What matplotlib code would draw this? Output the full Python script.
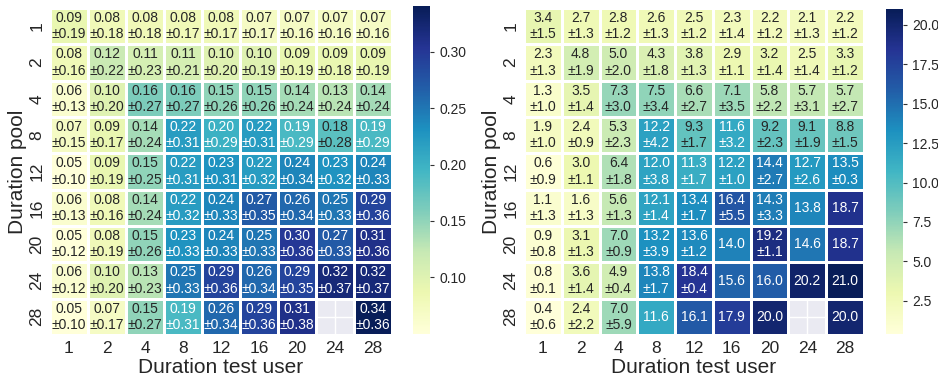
import numpy as np
import matplotlib
matplotlib.use('Agg')
import matplotlib.pyplot as plt
import seaborn as sns

sns.set_theme(style='darkgrid')
plt.rcParams['font.family'] = ['Liberation Sans', 'DejaVu Sans']

durations = [1, 2, 4, 8, 12, 16, 20, 24, 28]
nan = np.nan

# left: mean and std per (pool, test user)
left_mean = [
    [0.09, 0.08, 0.08, 0.08, 0.08, 0.07, 0.07, 0.07, 0.07],
    [0.08, 0.12, 0.11, 0.11, 0.10, 0.10, 0.09, 0.09, 0.09],
    [0.06, 0.10, 0.16, 0.16, 0.15, 0.15, 0.14, 0.13, 0.14],
    [0.07, 0.09, 0.14, 0.22, 0.20, 0.22, 0.19, 0.18, 0.19],
    [0.05, 0.09, 0.15, 0.22, 0.23, 0.22, 0.24, 0.23, 0.24],
    [0.06, 0.08, 0.14, 0.22, 0.24, 0.27, 0.26, 0.25, 0.29],
    [0.05, 0.08, 0.15, 0.23, 0.24, 0.25, 0.30, 0.27, 0.31],
    [0.06, 0.10, 0.13, 0.25, 0.29, 0.26, 0.29, 0.32, 0.32],
    [0.05, 0.07, 0.15, 0.19, 0.26, 0.29, 0.31, nan, 0.34],
]
left_std = [
    [0.19, 0.18, 0.18, 0.17, 0.17, 0.17, 0.16, 0.16, 0.16],
    [0.16, 0.22, 0.23, 0.21, 0.20, 0.19, 0.19, 0.18, 0.19],
    [0.13, 0.20, 0.27, 0.27, 0.26, 0.26, 0.24, 0.24, 0.24],
    [0.15, 0.17, 0.24, 0.31, 0.29, 0.31, 0.29, 0.28, 0.29],
    [0.10, 0.19, 0.25, 0.31, 0.31, 0.32, 0.34, 0.32, 0.33],
    [0.13, 0.16, 0.24, 0.32, 0.33, 0.35, 0.34, 0.33, 0.36],
    [0.12, 0.19, 0.26, 0.33, 0.33, 0.33, 0.36, 0.33, 0.36],
    [0.12, 0.20, 0.23, 0.33, 0.36, 0.34, 0.35, 0.37, 0.37],
    [0.10, 0.17, 0.27, 0.31, 0.34, 0.36, 0.38, nan, 0.36],
]
left_ticks = [0.10, 0.15, 0.20, 0.25, 0.30]

# right: mean and std (nan std -> only mean shown)
right_mean = [
    [3.4, 2.7, 2.8, 2.6, 2.5, 2.3, 2.2, 2.1, 2.2],
    [2.3, 4.8, 5.0, 4.3, 3.8, 2.9, 3.2, 2.5, 3.3],
    [1.3, 3.5, 7.3, 7.5, 6.6, 7.1, 5.8, 5.7, 5.7],
    [1.9, 2.4, 5.3, 12.2, 9.3, 11.6, 9.2, 9.1, 8.8],
    [0.6, 3.0, 6.4, 12.0, 11.3, 12.2, 14.4, 12.7, 13.5],
    [1.1, 1.6, 5.6, 12.1, 13.4, 16.4, 14.3, 13.8, 18.7],
    [0.9, 3.1, 7.0, 13.2, 13.6, 14.0, 19.2, 14.6, 18.7],
    [0.8, 3.6, 4.9, 13.8, 18.4, 15.6, 16.0, 20.2, 21.0],
    [0.4, 2.4, 7.0, 11.6, 16.1, 17.9, 20.0, nan, 20.0],
]
right_std = [
    [1.5, 1.3, 1.2, 1.3, 1.2, 1.4, 1.2, 1.3, 1.2],
    [1.3, 1.9, 2.0, 1.8, 1.3, 1.1, 1.4, 1.4, 1.2],
    [1.0, 1.4, 3.0, 3.4, 2.7, 3.5, 2.2, 3.1, 2.7],
    [1.0, 0.9, 2.3, 4.2, 1.7, 3.2, 2.3, 1.9, 1.5],
    [0.9, 1.1, 1.8, 3.8, 1.7, 1.0, 2.7, 2.6, 0.3],
    [1.3, 1.3, 1.3, 1.4, 1.7, 5.5, 3.3, nan, nan],
    [0.8, 1.3, 0.9, 3.9, 1.2, nan, 1.1, nan, nan],
    [0.1, 1.4, 0.4, 1.7, 0.4, nan, nan, nan, nan],
    [0.6, 2.2, 5.9, nan, nan, nan, nan, nan, nan],
]
right_ticks = [2.5, 5.0, 7.5, 10.0, 12.5, 15.0, 17.5, 20.0]


def make_labels(mean, std, fmt):
    labels = []
    for mrow, srow in zip(mean, std):
        row = []
        for m, s in zip(mrow, srow):
            if np.isnan(m):
                row.append('')
            elif np.isnan(s):
                row.append(format(m, fmt))
            else:
                row.append(format(m, fmt) + '\n±' + format(s, fmt))
        labels.append(row)
    return np.array(labels)


fig = plt.figure(figsize=(9.38, 3.82), dpi=100)
ax1 = fig.add_axes([0.0533, 0.123, 0.3646, 0.856])
cax1 = fig.add_axes([0.4403, 0.126, 0.0181, 0.857])
ax2 = fig.add_axes([0.5586, 0.123, 0.3625, 0.856])
cax2 = fig.add_axes([0.9446, 0.126, 0.0181, 0.850])

panels = [
    (ax1, cax1, left_mean, left_std, '.2f', left_ticks, '%.2f'),
    (ax2, cax2, right_mean, right_std, '.1f', right_ticks, '%.1f'),
]
for ax, cax, mean, std, fmt, cticks, cfmt in panels:
    data = np.array(mean, dtype=float)
    sns.heatmap(data, ax=ax, cbar_ax=cax, cmap='YlGnBu',
                annot=make_labels(mean, std, fmt), fmt='',
                annot_kws={'fontsize': 10}, linewidths=1, linecolor='white',
                xticklabels=durations, yticklabels=durations,
                cbar_kws={'ticks': cticks, 'format': cfmt})
    ax.set_xlabel('Duration test user', fontsize=15, labelpad=2)
    ax.set_ylabel('Duration pool', fontsize=15, labelpad=2)
    ax.tick_params(axis='both', labelsize=12.5, length=0, pad=4)
    plt.setp(ax.get_yticklabels(), rotation=90, va='center')
    plt.setp(ax.get_xticklabels(), rotation=0)
    cax.tick_params(labelsize=10, length=3, width=0.8, color='#333333')

fig.savefig('out.png', dpi=100)
